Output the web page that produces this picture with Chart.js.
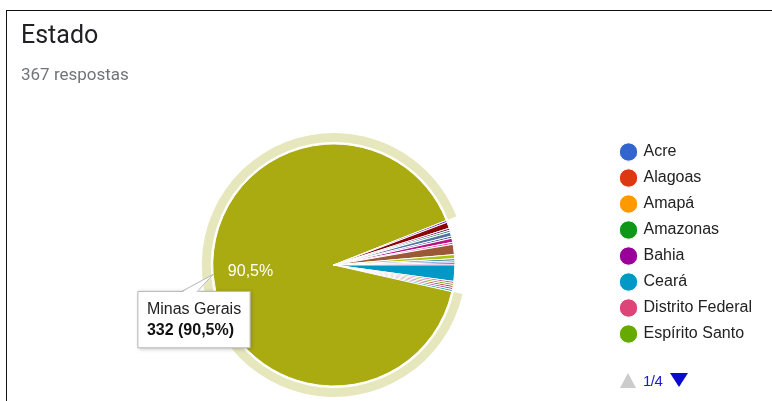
<!DOCTYPE html>
<html lang="pt-BR">
<head>
    <meta charset="UTF-8">
    <title>Estado</title>
    <script src="https://cdn.jsdelivr.net/npm/chart.js"></script>
    <style>
        body { margin: 0; background: #fff; width: 772px; height: 401px; overflow: hidden; position: relative; }
        .card { position: absolute; left: 6px; top: 10px; width: 800px; height: 420px; border-top: 1px solid #111; border-left: 1px solid #111; }
        #title { position: absolute; left: 21px; top: 22px; font: 25px Roboto, sans-serif; color: #202124; line-height: 25px; }
        #count { position: absolute; left: 21px; top: 66px; font: 17px Roboto, sans-serif; color: #70757a; line-height: 17px; }
        #chart { position: absolute; left: 0; top: 0; }
        #pager { position: absolute; left: 620px; top: 372px; height: 16px; font: 15px Arial, "Liberation Sans", sans-serif; color: #1a1ad0; display: flex; align-items: center; }
        .up { width: 0; height: 0; border-left: 8px solid transparent; border-right: 8px solid transparent; border-bottom: 15px solid #ccc; }
        .down { width: 0; height: 0; border-left: 9px solid transparent; border-right: 9px solid transparent; border-top: 14px solid #0b0bd0; }
        #pager span.txt { margin: 0 8px 0 7px; letter-spacing: -0.5px; }
    </style>
</head>
<body>
    <div class="card"></div>
    <canvas id="chart" width="772" height="401"></canvas>
    <div id="title">Estado</div>
    <div id="count">367 respostas</div>
    <div id="pager"><div class="up"></div><span class="txt">1/4</span><div class="down"></div></div>

    <script>
      // respostas por estado (ordem do formulário)
      const estados = ['Acre', 'Alagoas', 'Amapá', 'Amazonas', 'Bahia', 'Ceará', 'Distrito Federal', 'Espírito Santo',
        'Goiás', 'Maranhão', 'Mato Grosso', 'Mato Grosso do Sul', 'Minas Gerais', 'Pará', 'Paraíba', 'Paraná',
        'Pernambuco', 'Piauí', 'Rio de Janeiro', 'Rio Grande do Norte', 'Rio Grande do Sul', 'Rondônia', 'Roraima',
        'Santa Catarina', 'São Paulo', 'Sergipe', 'Tocantins'];
      const respostas = [1, 0, 0, 0, 1, 8, 1, 1,
        1, 0, 1, 1, 332, 1, 0, 3,
        1, 1, 2, 1, 0, 0, 2,
        1, 5, 2, 1];
      const cores = ['#3366cc', '#dc3912', '#ff9900', '#109618', '#990099', '#0099c6', '#dd4477', '#66aa00',
        '#b82e2e', '#316395', '#994499', '#22aa99', '#aaaa11', '#6633cc', '#e67300', '#8b0707',
        '#651067', '#329262', '#5574a6', '#3b3eac', '#b77322', '#16d620', '#b91383',
        '#f4359e', '#9c5935', '#a9c413', '#2a778d'];
      const porPagina = 8;
      const destaque = 12; // Minas Gerais

      const total = respostas.reduce((a, b) => a + b, 0);
      const pct = v => (v / total * 100).toFixed(1).replace('.', ',') + '%';
      const fonte = 'Arial, "Liberation Sans", sans-serif';

      // ponto na borda da fatia, no ângulo médio
      function bordaFatia(el) {
        const p = el.getProps(['x', 'y', 'startAngle', 'endAngle', 'outerRadius'], true);
        const a = (p.startAngle + p.endAngle) / 2;
        return { x: p.x + Math.cos(a) * p.outerRadius, y: p.y + Math.sin(a) * p.outerRadius };
      }

      Chart.Tooltip.positioners.borda = function (items) {
        if (!items.length) return false;
        const b = bordaFatia(items[0].element);
        return { x: b.x + 37, y: b.y };
      };

      // anel claro em volta da fatia ativa + rótulo de porcentagem
      const realce = {
        id: 'realce',
        afterDatasetsDraw(chart) {
          const ctx = chart.ctx;
          const meta = chart.getDatasetMeta(0);
          chart.tooltip.getActiveElements().forEach(a => {
            const p = meta.data[a.index].getProps(['x', 'y', 'startAngle', 'endAngle', 'outerRadius'], true);
            ctx.save();
            ctx.beginPath();
            ctx.arc(p.x, p.y, p.outerRadius + 11, p.startAngle, p.endAngle);
            ctx.arc(p.x, p.y, p.outerRadius + 2, p.endAngle, p.startAngle, true);
            ctx.closePath();
            ctx.fillStyle = 'rgba(170, 170, 17, 0.28)';
            ctx.fill();
            ctx.restore();
          });
          meta.data.forEach((el, i) => {
            if (respostas[i] / total < 0.05) return;
            const p = el.getProps(['x', 'y', 'startAngle', 'endAngle', 'outerRadius'], true);
            const ang = (p.startAngle + p.endAngle) / 2;
            ctx.save();
            ctx.font = '16px ' + fonte;
            ctx.fillStyle = '#fff';
            ctx.textAlign = 'center';
            ctx.textBaseline = 'middle';
            ctx.fillText(pct(respostas[i]), p.x + Math.cos(ang) * p.outerRadius * 0.69, p.y + Math.sin(ang) * p.outerRadius * 0.69);
            ctx.restore();
          });
        },
        beforeTooltipDraw(chart, args) {
          const t = args.tooltip;
          if (!t.opacity) return;
          const ctx = chart.ctx;
          ctx.save();
          ctx.shadowColor = 'rgba(0, 0, 0, 0.25)';
          ctx.shadowBlur = 4;
          ctx.shadowOffsetX = 1;
          ctx.shadowOffsetY = 1;
          ctx.fillStyle = '#fff';
          ctx.fillRect(t.x, t.y, t.width, t.height);
          ctx.restore();
        },
        afterTooltipDraw(chart, args) {
          const t = args.tooltip;
          if (!t.opacity || !t.dataPoints.length) return;
          const b = bordaFatia(t.dataPoints[0].element);
          const ctx = chart.ctx;
          const x1 = t.x + 43, x2 = t.x + 59, y0 = t.y + 0.5;
          ctx.save();
          ctx.beginPath();
          ctx.moveTo(x1, y0 + 1);
          ctx.lineTo(b.x, b.y);
          ctx.lineTo(x2, y0 + 1);
          ctx.closePath();
          ctx.fillStyle = '#fff';
          ctx.fill();
          ctx.beginPath();
          ctx.moveTo(x1, y0);
          ctx.lineTo(b.x, b.y);
          ctx.lineTo(x2, y0);
          ctx.strokeStyle = '#b5b5b5';
          ctx.lineWidth = 1;
          ctx.stroke();
          ctx.restore();
        }
      };

      const chart = new Chart(document.getElementById('chart'), {
        type: 'pie',
        data: {
          labels: estados,
          datasets: [{
            data: respostas,
            backgroundColor: cores,
            hoverBackgroundColor: cores,
            borderColor: '#fff',
            hoverBorderColor: '#fff',
            borderWidth: 1,
            hoverBorderWidth: 1,
            hoverOffset: 0
          }]
        },
        options: {
          responsive: false,
          animation: false,
          events: [],
          radius: 121,
          rotation: 88,
          layout: { padding: { left: 56, right: 10, top: 134, bottom: 5 } },
          plugins: {
            legend: {
              position: 'right',
              align: 'start',
              labels: {
                usePointStyle: true,
                pointStyle: 'circle',
                boxWidth: 14,
                boxHeight: 13,
                padding: 10,
                color: '#222',
                font: { family: fonte, size: 16 },
                filter: item => item.index < porPagina
              }
            },
            tooltip: {
              position: 'borda',
              xAlign: 'right',
              yAlign: 'top',
              caretSize: 0,
              caretPadding: 17,
              cornerRadius: 0,
              backgroundColor: '#fff',
              borderColor: '#b5b5b5',
              borderWidth: 1,
              displayColors: false,
              padding: { top: 9, bottom: 8, left: 9, right: 9 },
              titleColor: '#222',
              bodyColor: '#111',
              titleFont: { family: fonte, size: 16, weight: 'normal' },
              bodyFont: { family: fonte, size: 16, weight: 'bold' },
              titleMarginBottom: 1,
              callbacks: {
                title: items => items[0].label,
                label: item => respostas[item.dataIndex] + ' (' + pct(respostas[item.dataIndex]) + ')'
              }
            }
          }
        },
        plugins: [realce]
      });

      chart.tooltip.setActiveElements([{ datasetIndex: 0, index: destaque }], { x: 0, y: 0 });
      chart.update();
    </script>
</body>
</html>
